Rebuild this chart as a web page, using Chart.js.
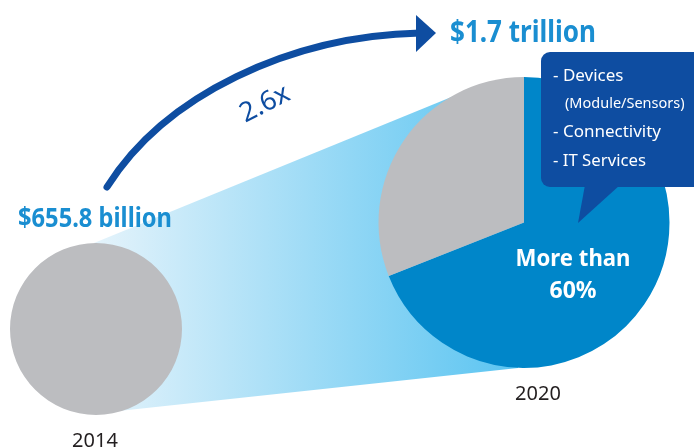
<!DOCTYPE html>
<html>
<head>
<meta charset="utf-8">
<script src="https://cdn.jsdelivr.net/npm/chart.js@4"></script>
<style>
  body { margin: 0; background: #fff; }
  #wrap { position: relative; width: 694px; height: 448px; overflow: hidden; }
  #wrap canvas { position: absolute; left: 0; top: 0; }
</style>
</head>
<body>
<div id="wrap">
  <canvas id="chart2014" width="694" height="448"></canvas>
  <canvas id="chart2020" width="694" height="448"></canvas>
</div>
<script>
// market size (billion USD)
const years = ["2014", "2020"];
const market2014 = [655.8];
const market2020 = 1700;
// 2020 share: devices/connectivity/IT services vs rest
const shareLabels = ["Devices, Connectivity, IT Services", "Other"];
const share2020 = [69, 31];
const calloutLines = ["- Devices", "(Module/Sensors)", "- Connectivity", "- IT Services"];

const FONT = "'Noto Sans', sans-serif";
const GRAY = "#bcbdc0";
const BLUE = "#0086c9";
const NAVY = "#0e4da1";
const SKY = "#1a8ed1";

// text squeezed to a width (the original uses a narrow font)
function fitText(ctx, text, x, y, w, align) {
    const m = ctx.measureText(text).width;
    const s = Math.min(1, w / m);
    ctx.save();
    ctx.translate(x, y);
    ctx.scale(s, 1);
    ctx.textAlign = align;
    ctx.fillText(text, 0, 0);
    ctx.restore();
}

// funnel and growth arrow, under the 2014 circle
const backdrop = {
    id: "backdrop",
    beforeDatasetsDraw(chart) {
        const ctx = chart.ctx;
        ctx.save();
        const g = ctx.createLinearGradient(96, 0, 520, 0);
        g.addColorStop(0, "#e4f3fb");
        g.addColorStop(1, "#5ac4f1");
        ctx.fillStyle = g;
        ctx.beginPath();
        ctx.moveTo(94, 243);
        ctx.lineTo(471, 89);
        ctx.lineTo(524, 222);
        ctx.lineTo(518, 368);
        ctx.lineTo(100, 413);
        ctx.closePath();
        ctx.fill();

        // arrow
        ctx.strokeStyle = NAVY;
        ctx.lineWidth = 7;
        ctx.lineCap = "round";
        ctx.beginPath();
        ctx.moveTo(107, 187);
        ctx.bezierCurveTo(165, 95, 290, 36, 420, 33);
        ctx.stroke();
        ctx.fillStyle = NAVY;
        ctx.beginPath();
        ctx.moveTo(416, 15);
        ctx.lineTo(436, 33);
        ctx.lineTo(416, 52);
        ctx.closePath();
        ctx.fill();

        // growth factor
        const factor = (market2020 / market2014[0]).toFixed(1) + "x";
        ctx.save();
        ctx.translate(265, 104);
        ctx.rotate(-27 * Math.PI / 180);
        ctx.font = "27px " + FONT;
        ctx.textBaseline = "middle";
        fitText(ctx, factor, 0, 0, 54, "center");
        ctx.restore();

        ctx.fillStyle = SKY;
        ctx.font = "bold 27px " + FONT;
        ctx.textBaseline = "alphabetic";
        fitText(ctx, "$" + market2014[0] + " billion", 18, 227, 154, "left");

        ctx.fillStyle = "#231f20";
        ctx.font = "20px " + FONT;
        fitText(ctx, years[0], 95, 447, 46, "center");
        ctx.restore();
    }
};

// callout and labels on top of the 2020 pie
const overlay = {
    id: "overlay",
    afterDraw(chart) {
        const ctx = chart.ctx;
        ctx.save();
        ctx.fillStyle = NAVY;
        ctx.beginPath();
        ctx.roundRect(541, 52, 170, 135, 9);
        ctx.fill();
        ctx.beginPath();
        ctx.moveTo(585, 185);
        ctx.lineTo(578, 223);
        ctx.lineTo(620, 185);
        ctx.closePath();
        ctx.fill();

        ctx.fillStyle = "#ffffff";
        ctx.textBaseline = "alphabetic";
        ctx.font = "17px " + FONT;
        fitText(ctx, calloutLines[0], 553, 81, 71, "left");
        ctx.font = "14.5px " + FONT;
        fitText(ctx, calloutLines[1], 565, 108, 122, "left");
        ctx.font = "17px " + FONT;
        fitText(ctx, calloutLines[2], 553, 137, 109, "left");
        fitText(ctx, calloutLines[3], 553, 166, 93, "left");

        ctx.font = "bold 23px " + FONT;
        fitText(ctx, "More than", 573, 266, 115, "center");
        fitText(ctx, "60%", 573, 298, 52, "center");

        ctx.fillStyle = SKY;
        ctx.font = "bold 30px " + FONT;
        fitText(ctx, "$" + (market2020 / 1000) + " trillion", 450, 42, 146, "left");

        ctx.fillStyle = "#231f20";
        ctx.font = "20px " + FONT;
        fitText(ctx, years[1], 538, 400, 47, "center");
        ctx.restore();
    }
};

const baseOptions = (padding) => ({
    responsive: false,
    animation: false,
    events: [],
    layout: { padding: padding },
    plugins: { legend: { display: false }, tooltip: { enabled: false } },
});

new Chart(document.getElementById("chart2014").getContext("2d"), {
    type: "pie",
    data: {
        labels: [years[0]],
        datasets: [{ data: market2014, backgroundColor: [GRAY], borderWidth: 0, hoverOffset: 0 }],
    },
    options: baseOptions({ left: 10, right: 512, top: 243, bottom: 33 }),
    plugins: [backdrop],
});

new Chart(document.getElementById("chart2020").getContext("2d"), {
    type: "pie",
    data: {
        labels: shareLabels,
        datasets: [{ data: share2020, backgroundColor: [BLUE, GRAY], borderWidth: 0, hoverOffset: 0 }],
    },
    options: baseOptions({ left: 378, right: 24, top: 77, bottom: 80 }),
    plugins: [overlay],
});
</script>
</body>
</html>
